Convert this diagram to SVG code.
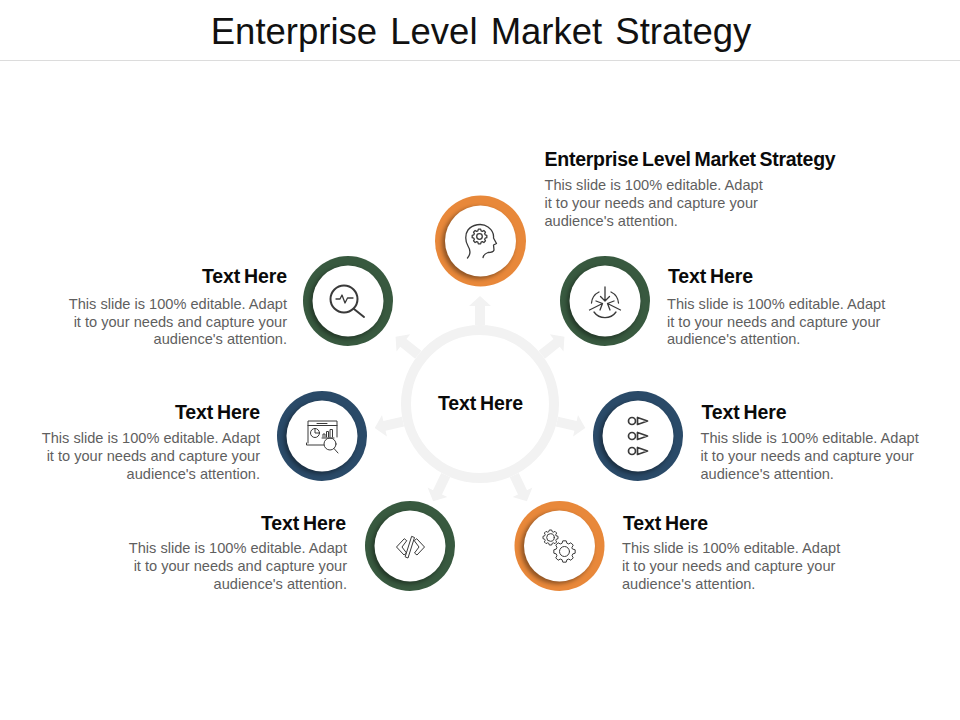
<svg xmlns="http://www.w3.org/2000/svg" width="960" height="720" viewBox="0 0 960 720">
<style>
text{font-family:"Liberation Sans",Arial,sans-serif}
.t{font-size:36.5px;fill:#111;text-anchor:middle;word-spacing:3px}
.h{font-size:19.5px;font-weight:bold;fill:#0a0a0a;letter-spacing:-.1px;word-spacing:-1.500px}
.b{font-size:14.600px;fill:#5f5f5f}
.i{fill:none;stroke:#3a3a3a;stroke-width:1.300;stroke-linecap:round;stroke-linejoin:round}
.w1{stroke-width:1}.w2{stroke-width:2}.w16{stroke-width:1.700}
.in{fill:#fff}
.sh{fill:#000;opacity:.38;filter:url(#bl)}
.or{fill:#e8883a}.gr{fill:#38593f}.bl{fill:#2a4a68}
</style>
<defs>
<filter id="bl" x="-20%" y="-20%" width="140%" height="140%"><feGaussianBlur stdDeviation="2.2"/></filter>
<path id="ar" d="M-5-79V-98H-11L0-108 11-98H5V-79Z" fill="#f2f2f2"/>
<path id="gear" vector-effect="non-scaling-stroke" d="M7.69-2.2 9.88-1.56 9.88 1.56 7.69 2.2 7 3.88 8.09 5.88 5.88 8.09 3.88 7 2.2 7.69 1.56 9.88-1.56 9.88-2.2 7.69-3.88 7-5.88 8.09-8.09 5.88-7 3.88-7.69 2.2-9.88 1.56-9.88-1.56-7.69-2.2-7-3.88-8.09-5.88-5.88-8.09-3.88-7-2.2-7.69-1.56-9.88 1.56-9.88 2.2-7.69 3.88-7 5.88-8.09 8.09-5.88 7-3.88Z"/>
</defs>
<rect width="960" height="720" fill="#fff"/>
<text class="t" x="481" y="44">Enterprise Level Market Strategy</text>
<path d="M0 60.500H960" stroke="#dcdcdc"/>

<g id="connectors">
<use href="#ar" transform="translate(480 404)"/>
<use href="#ar" transform="translate(480 404) rotate(51.430)"/>
<use href="#ar" transform="translate(480 404) rotate(102.860)"/>
<use href="#ar" transform="translate(480 404) rotate(154.290)"/>
<use href="#ar" transform="translate(480 404) rotate(205.710)"/>
<use href="#ar" transform="translate(480 404) rotate(257.140)"/>
<use href="#ar" transform="translate(480 404) rotate(308.570)"/>
<circle cx="480" cy="404" r="74" fill="#fff" stroke="#f2f2f2" stroke-width="10"/>
</g>

<g id="center"><text class="h" x="480.500" y="409.500" text-anchor="middle">Text Here</text></g>

<g id="node-top">
<circle class="or" cx="480.500" cy="241" r="45.500"/><circle class="sh" cx="478" cy="243" r="36"/><circle class="in" cx="480.500" cy="241" r="35.500"/>
<path class="i" d="M467.500 258C471 254 470.500 250 468 246 465 241 465 234 468 230 472 224.500 482 222.500 488 227 492 230 494 234 493.500 238L496.500 243.500 493.500 245 494 250C493.500 252 491 252.500 488 252.500 485 253.500 483.500 255 483 257.500"/>
<circle class="i" cx="479.500" cy="236.500" r="2.800"/><use href="#gear" class="i" transform="translate(479.500 236.500) scale(.74)"/>
<text class="h" x="544.500" y="166" style="letter-spacing:-.25px">Enterprise Level Market Strategy</text>
<text class="b" x="544.500" y="190">This slide is 100% editable.  Adapt</text>
<text class="b" x="544.500" y="208">it to your needs and capture your</text>
<text class="b" x="544.500" y="226">audience's attention.</text>
</g>

<g id="node-right-top">
<circle class="gr" cx="605" cy="301" r="45"/><circle class="sh" cx="603" cy="303" r="36"/><circle class="in" cx="605" cy="301" r="35.500"/>
<path class="i" d="M599 292A13.500 13.500 0 0 0 591.500 303M611 292A13.500 13.500 0 0 1 618.500 303M594 312A13.500 13.500 0 0 0 616 312"/>
<path class="i" d="M605 287V301M600.500 296.500 605 301 609.500 296.500M589.500 310 602.500 303.500M596 301 602.500 303.500 600 310M620.500 310 607.500 303.500M614 301 607.500 303.500 610 310"/>
<text class="h" x="668" y="283">Text Here</text>
<text class="b" x="667" y="309">This slide is 100% editable.  Adapt</text>
<text class="b" x="667" y="327">it to your needs and capture your</text>
<text class="b" x="667" y="344">audience's attention.</text>
</g>

<g id="node-right">
<circle class="bl" cx="638" cy="436" r="45"/><circle class="sh" cx="636" cy="438" r="36"/><circle class="in" cx="638" cy="436" r="35.500"/>
<g class="i w16"><circle cx="632" cy="421" r="3.500"/><path d="M637.500 417.500V424.500L647.500 421Z"/><circle cx="632" cy="436" r="3.500"/><path d="M637.500 432.500V439.500L647.500 436Z"/><circle cx="632" cy="451" r="3.500"/><path d="M637.500 447.500V454.500L647.500 451Z"/></g>
<text class="h" x="701.500" y="419">Text Here</text>
<text class="b" x="700.500" y="443">This slide is 100% editable.  Adapt</text>
<text class="b" x="700.500" y="461">it to your needs and capture your</text>
<text class="b" x="700.500" y="479">audience's attention.</text>
</g>

<g id="node-bottom-right">
<circle class="or" cx="559.500" cy="546" r="45"/><circle class="sh" cx="557" cy="548" r="36"/><circle class="in" cx="559.500" cy="546" r="35.500"/>
<g class="i w1"><circle cx="550.500" cy="537.500" r="3.800"/><use href="#gear" transform="translate(550.500 537.500) scale(.76)"/><circle cx="564.500" cy="551.500" r="5"/><use href="#gear" transform="translate(564.500 551.500) scale(1.080)"/></g>
<text class="h" x="623" y="530">Text Here</text>
<text class="b" x="622" y="553">This slide is 100% editable.  Adapt</text>
<text class="b" x="622" y="571">it to your needs and capture your</text>
<text class="b" x="622" y="589">audience's attention.</text>
</g>

<g id="node-bottom-left">
<circle class="gr" cx="410" cy="546" r="45"/><circle class="sh" cx="408" cy="548" r="36"/><circle class="in" cx="410" cy="546" r="35.500"/>
<g class="i w1"><path d="M404 539 396.500 547 404 555 406.500 553 402 547 406.500 541ZM417 539 424.500 547 417 555 414.500 553 419 547 414.500 541ZM412 536.500 414.500 537.500 408 558 405.500 557Z"/></g>
<text class="h" x="346" y="530" text-anchor="end">Text Here</text>
<text class="b" x="347" y="553" text-anchor="end">This slide is 100% editable.  Adapt</text>
<text class="b" x="347" y="571" text-anchor="end">it to your needs and capture your</text>
<text class="b" x="347" y="589" text-anchor="end">audience's attention.</text>
</g>

<g id="node-left">
<circle class="bl" cx="322" cy="436" r="45"/><circle class="sh" cx="320" cy="438" r="36"/><circle class="in" cx="322" cy="436" r="35.500"/>
<g class="i w1"><path d="M308 443V421H337V437M306.500 443V445H324M317 423.500H327M308 425.500H337"/><circle cx="315" cy="433" r="4.500"/><path d="M315 428.500V433H319.500M323 437V434H325V437M326.500 437V431.500H328.500V437M330 437V429.500H332.500V437M322 438H334"/><circle cx="330" cy="444" r="6"/><path d="M334 448.500 338 453"/></g>
<text class="h" x="260" y="419" text-anchor="end">Text Here</text>
<text class="b" x="260" y="443" text-anchor="end">This slide is 100% editable.  Adapt</text>
<text class="b" x="260" y="461" text-anchor="end">it to your needs and capture your</text>
<text class="b" x="260" y="479" text-anchor="end">audience's attention.</text>
</g>

<g id="node-left-top">
<circle class="gr" cx="348" cy="301" r="45"/><circle class="sh" cx="346" cy="303" r="36"/><circle class="in" cx="348" cy="301" r="35.500"/>
<circle class="i w2" cx="344" cy="299" r="13.500"/><path class="i w2" d="M354 309 364 317"/><path class="i" d="M336 299H340L342 295 345 303 347.500 298H353"/>
<text class="h" x="287" y="283" text-anchor="end">Text Here</text>
<text class="b" x="287" y="309" text-anchor="end">This slide is 100% editable.  Adapt</text>
<text class="b" x="287" y="327" text-anchor="end">it to your needs and capture your</text>
<text class="b" x="287" y="344" text-anchor="end">audience's attention.</text>
</g>
</svg>
